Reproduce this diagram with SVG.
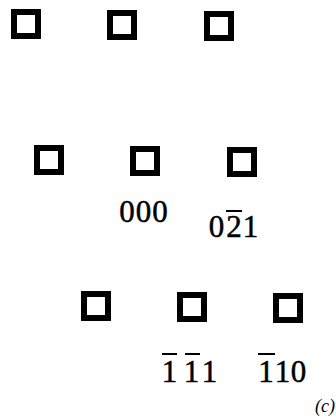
<svg xmlns="http://www.w3.org/2000/svg" width="336" height="419" viewBox="0 0 336 419">
<style>
.sq{fill:none;stroke:#000;stroke-width:6}
.bar{stroke:#000;stroke-width:2}
</style>
<rect width="336" height="419" fill="#fff"/>
<g id="row1">
<g id="s11"><rect class="sq" x="14" y="12" width="24" height="24"/></g>
<g id="s12"><rect class="sq" x="110" y="13" width="24" height="24"/></g>
<g id="s13"><rect class="sq" x="207" y="14" width="24" height="24"/></g>
</g>
<g id="row2">
<g id="s21"><rect class="sq" x="37" y="148" width="24" height="24"/></g>
<g id="s22"><rect class="sq" x="133" y="149" width="24" height="24"/></g>
<g id="s23"><rect class="sq" x="230" y="150" width="24" height="24"/></g>
</g>
<g id="row3">
<g id="s31"><rect class="sq" x="84" y="294" width="24" height="24"/></g>
<g id="s32"><rect class="sq" x="180" y="295" width="24" height="24"/></g>
<g id="s33"><rect class="sq" x="276" y="296" width="24" height="24"/></g>
</g>
<g id="labels" font-family="Liberation Serif, Times New Roman, serif" font-size="31" fill="#000" stroke="#000" stroke-width="0.5" text-anchor="middle">
<text y="222"><tspan x="127">0</tspan><tspan x="143.5">0</tspan><tspan x="160">0</tspan></text>
<text y="237"><tspan x="216.5">0</tspan><tspan x="234">2</tspan><tspan x="250.5">1</tspan></text>
<line class="bar" x1="226" y1="211" x2="242" y2="211"/>
<text y="382"><tspan x="169.5">1</tspan><tspan x="191.5">1</tspan><tspan x="209.5">1</tspan></text>
<line class="bar" x1="162" y1="354" x2="177" y2="354"/>
<line class="bar" x1="185" y1="354" x2="200" y2="354"/>
<text y="382"><tspan x="266">1</tspan><tspan x="282.5">1</tspan><tspan x="298.5">0</tspan></text>
<line class="bar" x1="258" y1="354" x2="275" y2="354"/>
<text x="315" y="412" font-size="18" font-style="italic" stroke-width="0" text-anchor="start">(c)</text>
</g>
</svg>
